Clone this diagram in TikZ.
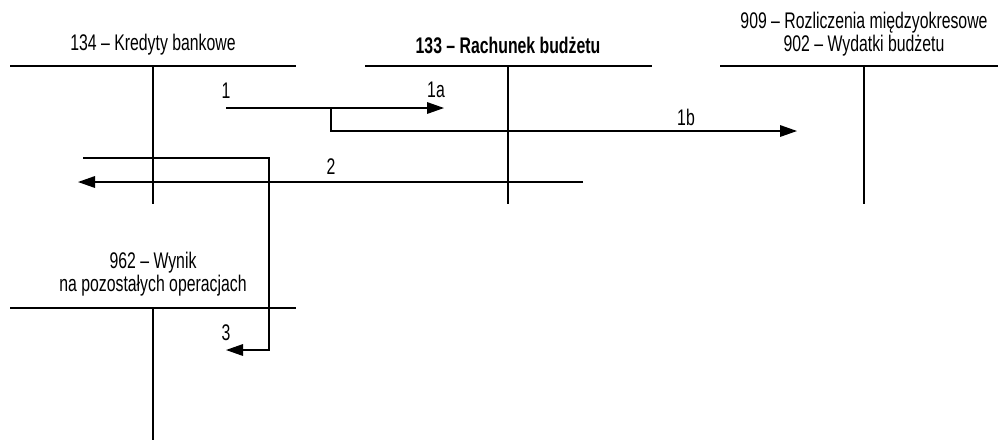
\documentclass[tikz,border=0pt]{standalone}
\usepackage{fontspec}
\setmainfont{Liberation Sans}[FakeStretch=0.7]
\usepackage{tikz}
\usetikzlibrary{calc, arrows.meta, positioning}

\tikzset{
  konto/.style={line width=0.65pt},
  tytul/.style={align=center, inner sep=0pt, font=\fontsize{11.3}{11.5}\selectfont},
  nr/.style={inner sep=0pt, font=\fontsize{11.3}{12}\selectfont},
  ksieg/.style={line width=0.65pt, -{Triangle[length=8.5pt,width=5.8pt]}}
}

\begin{document}
\begin{tikzpicture}[x=0.5pt, y=-0.5pt]
    \useasboundingbox (0,0) rectangle (998,441);
    % konta T
    \draw[konto] (10,66) -- (296,66) (153,66) -- (153,204);
    \draw[konto] (365,66) -- (652,66) (508,66) -- (508,204);
    \draw[konto] (720,66) -- (998,66) (864,66) -- (864,204);
    \draw[konto] (10,308) -- (296,308) (153,308) -- (153,440);
    \node[tytul] (k134) at (153,45) {134 -- Kredyty bankowe};
    \node[tytul] (k133) at (508,45) {\bfseries 133 -- Rachunek budżetu};
    \node[tytul] (k909) at (864,34) {909 -- Rozliczenia międzyokresowe\\902 -- Wydatki budżetu};
    \node[tytul] (k962) at (153,274) {962 -- Wynik\\na pozostałych operacjach};
    % zapisy
    \coordinate (p1) at (226,108);
    \coordinate (k1a) at (444,108);
    \coordinate (r1) at (331,108);
    \coordinate (k1b) at (797,131);
    \coordinate (p2) at (583,182);
    \coordinate (k2) at (78,182);
    \coordinate (p3) at (83,158);
    \coordinate (z3) at (269,158);
    \coordinate (k3) at (226,350);
    \draw[ksieg] (p1) -- (k1a);
    \draw[ksieg] (r1) |- (k1b);
    \draw[ksieg] (p2) -- (k2);
    \draw[ksieg] (p3) -- (z3) |- (k3);
    \node[nr] (n1) at (226,91) {1};
    \node[nr] (n1a) at (436,90) {1a};
    \node[nr] (n1b) at (686,117) {1b};
    \node[nr] (n2) at (331,167) {2};
    \node[nr] (n3) at (226,333) {3};
\end{tikzpicture}
\end{document}
